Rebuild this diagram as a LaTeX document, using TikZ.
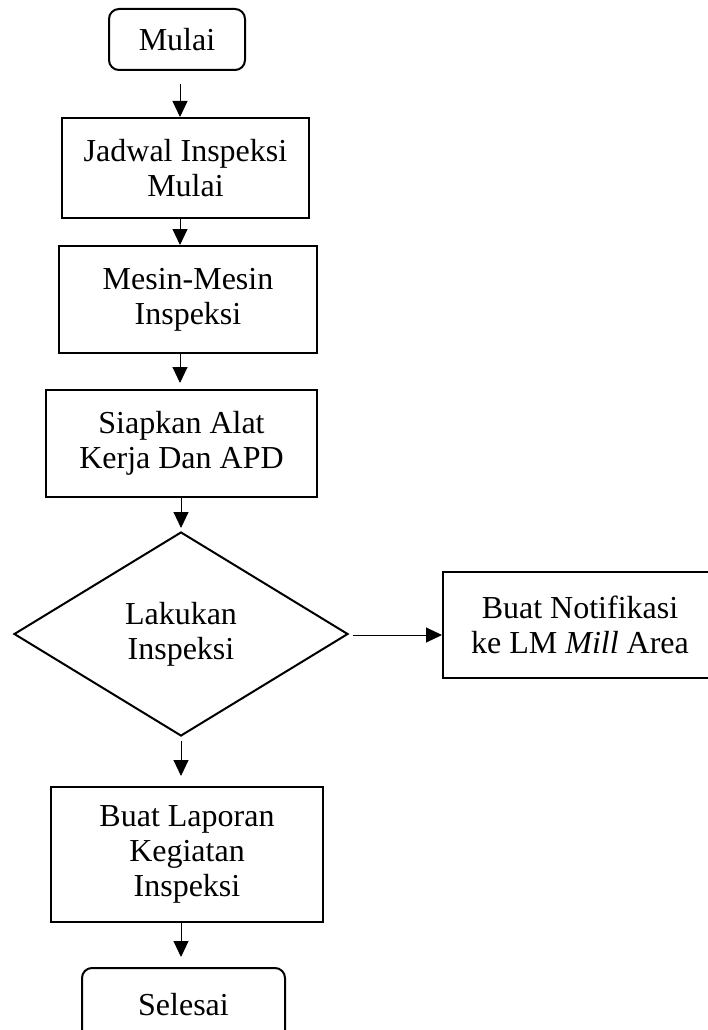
\documentclass[tikz,border=0pt]{standalone}
\usepackage{fontspec}
\setmainfont{Liberation Serif}
\usetikzlibrary{arrows.meta,shapes.geometric}
\tikzset{
  base/.style={draw=black,line width=2pt,align=center,inner sep=0pt,
    font=\fontsize{32}{35}\selectfont},
  procbox/.style={base,rectangle},
  termbox/.style={base,rectangle,rounded corners=10pt},
  decbox/.style={base,diamond,aspect=1},
  arr/.style={line width=1pt,-{Triangle[length=16pt,width=15pt]}}
}
\begin{document}
\begin{tikzpicture}[x=1pt,y=-1pt]
\useasboundingbox (0,0) rectangle (707,1030);
\node[termbox,minimum width=136pt,minimum height=61pt] (mulai) at (177,39.5) {Mulai};
\node[procbox,minimum width=247pt,minimum height=100pt] (jadwal) at (185.5,168) {Jadwal Inspeksi\\Mulai};
\node[procbox,minimum width=258pt,minimum height=107pt] (mesin) at (188,299.5) {Mesin-Mesin\\Inspeksi};
\node[procbox,minimum width=271pt,minimum height=107pt] (siapkan) at (181.5,443.5) {Siapkan Alat\\Kerja Dan APD};
\node[decbox,minimum width=334pt,minimum height=204pt] (lakukan) at (181,634) {Lakukan\\Inspeksi};
\node[procbox,minimum width=274pt,minimum height=106pt] (notif) at (580,625) {Buat Notifikasi\\ke LM \textit{Mill} Area};
\node[procbox,minimum width=272pt,minimum height=135pt] (laporan) at (187,854.5) {Buat Laporan\\Kegiatan\\Inspeksi};
\node[termbox,minimum width=203pt,minimum height=74pt] (selesai) at (183.5,1005) {Selesai};
\coordinate (ax) at (180,0);
\coordinate (bx) at (181,0);
\draw[arr,shorten <=13pt] (mulai.south -| ax) -- (jadwal.north -| ax);
\draw[arr] (jadwal.south -| ax) -- (mesin.north -| ax);
\draw[arr,shorten >=6pt] (mesin.south -| ax) -- (siapkan.north -| ax);
\draw[arr,shorten >=3pt] (siapkan.south -| bx) -- (lakukan.north);
\draw[arr,shorten <=4pt,shorten >=10pt] (lakukan.south) -- (laporan.north -| bx);
\draw[arr,shorten >=10pt] (laporan.south -| bx) -- (selesai.north -| bx);
\draw[arr,shorten <=4pt] ([yshift=-1pt]lakukan.east) -- ([yshift=-1pt]lakukan.east -| notif.west);
\end{tikzpicture}
\end{document}
